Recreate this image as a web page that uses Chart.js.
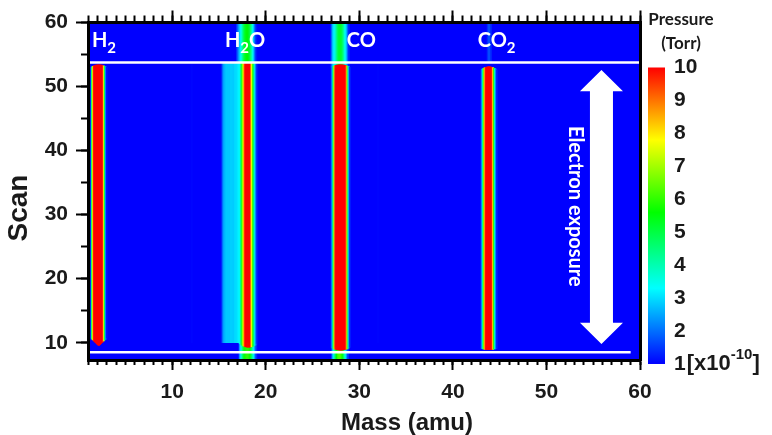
<!DOCTYPE html>
<html><head><meta charset="utf-8">
<script src="https://cdn.jsdelivr.net/npm/chart.js@4.4.1/dist/chart.umd.min.js"></script>
<style>html,body{margin:0;padding:0;background:#fff;}</style>
</head><body>
<canvas id="c" width="772" height="435"></canvas>
<script>
// ---------------- data (pressure in 1e-10 Torr) ----------------
const massRange = [1, 60];
const scanRange = [7.3, 60];
const xMajorTicks = [10, 20, 30, 40, 50, 60];
const xMinorTicks = [1,2,3,4,5,6,7,8,9,10,11,12,13,14,15,16,17,18,19,20,21,22,23,24,25,26,27,28,29,30,31,32,33,34,35,36,37,38,39,40,41,42,43,44,45,46,47,48,49,50,51,52,53,54,55,56,57,58,59,60];
const yMajorTicks = [10, 20, 30, 40, 50, 60];
const yMinorTicks = [10, 15, 20, 25, 30, 35, 40, 45, 50, 55, 60];
const pressureTicks = [1, 2, 3, 4, 5, 6, 7, 8, 9, 10];
const pressureAxisRange = [1.121, 11.366];

// mass profiles, 0.1 amu per entry; start given in tenths of amu
const h2Start = 13;
const h2Main = [1.3,4.5,7.5,9.7,10,10,10,10,10,10,10,10,10,9.6,7.5,4.8,2.2,1.2];
const h2Scans = [9.5, 53.4];
const h2Tips = [1.2, 0.4];

const h2oShoulderStart = 153;
const h2oShoulder = [1.3,1.9,2.4,2.6,2.7,2.8,2.8,2.8,2.8,2.8,2.9,2.9,2.9,2.9,3.0,3.0,3.0,3.1,3.2];
const h2oShoulderScans = [10.0, 53.75];

const h2oStart = 172;
const h2oMain = [3.3,4.0,5.0,6.2,7.6,9.0,10,10,10,10,10,10,9.2,7.8,6.3,5.0,3.8,2.6,1.7,1.2];
const h2oScans = [9.3, 53.75];
const h2oTips = [0.6, 0];

const h2oTopStart = 169;
const h2oTop = [1.4,1.8,2.3,2.7,3.1,3.5,4.0,4.5,5.0,5.3,5.5,5.6,5.6,5.4,5.1,4.7,4.2,3.6,3.0,2.3,1.7,1.2];
const h2oTopScans = [53.75, 60];

const h2oLowStart = 172;
const h2oLow = [2.2,2.9,3.6,4.3,4.9,5.4,5.7,5.9,6.0,6.0,5.9,5.7,5.3,4.8,4.2,3.5,2.8,2.0,1.4];
const h2oLowScans = [7.3, 10.0];

const coStart = 270;
const coMain = [1.3,2.5,4.5,7.0,9.3,10,10,10,10,10,10,10,10,10,10,10,9.3,7.0,4.5,2.5,1.3];
const coScans = [8.85, 53.4];
const coTips = [0.4, 0.4];

const coTopStart = 270;
const coTop = [1.5,2.3,2.9,3.2,3.5,3.9,4.4,4.8,5.1,5.2,5.2,5.1,4.8,4.4,3.9,3.4,3.0,2.5,1.8,1.3];
const coTopScans = [53.0, 60];

const coLowStart = 271;
const coLow = [2.0,2.9,3.6,4.4,5.1,5.6,6.0,6.2,6.3,6.2,6.0,5.6,5.0,4.4,3.6,2.9,2.1,1.5];
const coLowScans = [7.3, 9.2];

const co2Start = 430;
const co2Main = [1.3,2.3,4.2,6.5,8.5,9.8,10,10,10,10,10,10,9.6,7.8,5.6,3.6,2.2,1.3];
const co2Scans = [8.9, 53.1];
const co2Tips = [0.2, 0.5];

const co2TopStart = 437;
const co2Top = [1.3,1.6,1.8,1.6,1.3];
const co2TopScans = [53.75, 60];

const faintStarts = [121, 320];
const faintValues = [1.05, 1.04];
const faintScans = [10.0, 53.75];

const separatorScans = [8.5, 53.75];   // exposure start / end
const separatorEnds = [59, 60];

// texts
const chemLabels = [
  [['H',0],['2',1]],
  [['H',0],['2',1],['O',0]],
  [['CO',0]],
  [['CO',0],['2',1]]
];
const exposureLabel = 'Electron exposure';
const xTitle = 'Mass (amu)';
const yTitle = 'Scan';
const cbTitle = ['Pressure', '(Torr)'];

// colour map (style)
const cmapStops = [1, 3.3, 5.6, 7.8, 10];
const cmapRGB = [[0,0,255],[0,255,255],[0,255,0],[255,255,0],[255,0,0]];

function pColor(p) {
  const v = Math.max(cmapStops[0], Math.min(cmapStops[cmapStops.length - 1], p));
  for (let i = 1; i < cmapStops.length; i++) {
    if (v <= cmapStops[i]) {
      const t = (v - cmapStops[i-1]) / (cmapStops[i] - cmapStops[i-1]);
      const a = cmapRGB[i-1], b = cmapRGB[i];
      return 'rgb(' + a.map((c, k) => Math.round(c + (b[k] - c) * t)).join(',') + ')';
    }
  }
  return 'rgb(255,0,0)';
}

function columns(startTenths, values, scans, tips, sharp) {
  tips = tips || [0, 0]; sharp = sharp || [2, 2];
  const half = (values.length - 1) / 2;
  return values.map((p, i) => {
    const f = half ? Math.abs(i - half) / half : 0;
    return { x: (startTenths + i) / 10,
             y: [scans[0] + tips[0] * Math.pow(f, sharp[0]), scans[1] - tips[1] * Math.pow(f, sharp[1])],
             p: p };
  });
}
function heat(cols, order) {
  return { type: 'bar', data: cols, backgroundColor: cols.map(c => pColor(c.p)), order: order };
}
function sepLine(scan, endMass) {
  return { type: 'line', data: [{x: massRange[0], y: scan}, {x: endMass, y: scan}],
           borderColor: '#ffffff', borderWidth: 2.5, pointRadius: 0, order: 0 };
}

const datasets = [
  sepLine(separatorScans[1], separatorEnds[1]),
  sepLine(separatorScans[0], separatorEnds[0]),
  heat(columns(h2Start, h2Main, h2Scans, h2Tips, [1, 2]), 2),
  heat(columns(h2oShoulderStart, h2oShoulder, h2oShoulderScans), 2),
  heat(columns(h2oStart, h2oMain, h2oScans, h2oTips), 2),
  heat(columns(coStart, coMain, coScans, coTips), 2),
  heat(columns(co2Start, co2Main, co2Scans, co2Tips), 2),
  heat(columns(faintStarts[0], [faintValues[0]], faintScans), 2),
  heat(columns(faintStarts[1], [faintValues[1]], faintScans), 2),
  heat(columns(h2oTopStart, h2oTop, h2oTopScans), 3),
  heat(columns(h2oLowStart, h2oLow, h2oLowScans), 3),
  heat(columns(coTopStart, coTop, coTopScans), 3),
  heat(columns(coLowStart, coLow, coLowScans), 3),
  heat(columns(co2TopStart, co2Top, co2TopScans), 3)
];

// ---------------- styling / layout ----------------
const INK = '#1a1a1a';
const tickFont = { family: 'Liberation Sans', size: 21, weight: 'bold' };
const setTicks = arr => scale => { scale.ticks = arr.map(v => ({ value: v })); };

function xAxis(pos, ticksArr, len, weight, size, showLabels, border) {
  return {
    type: 'linear', position: pos, min: massRange[0], max: massRange[1], offset: false, weight: weight,
    afterBuildTicks: setTicks(ticksArr),
    afterFit: s => { s.height = size; },
    grid: { display: true, drawOnChartArea: false, drawTicks: true, tickLength: len, tickWidth: 2, tickColor: '#000', offset: false },
    border: { display: border, width: 3, color: '#000', z: 1 },
    ticks: { display: showLabels, font: tickFont, color: INK, padding: 10, maxRotation: 0, autoSkip: false }
  };
}
function yAxis(ticksArr, len, weight, size, showLabels, border) {
  return {
    type: 'linear', position: 'left', min: scanRange[0], max: scanRange[1], weight: weight,
    afterBuildTicks: setTicks(ticksArr),
    afterFit: s => { s.width = size; },
    grid: { display: true, drawOnChartArea: false, drawTicks: true, tickLength: len, tickWidth: 2, tickColor: '#000' },
    border: { display: border, width: 3, color: '#000', z: 1 },
    ticks: { display: showLabels, font: tickFont, color: INK, padding: 8, autoSkip: false }
  };
}

function drawChem(ctx, x, yBase, parts) {
  for (const [t, sub] of parts) {
    ctx.font = sub ? 'bold 15px Lato' : 'bold 20px Lato';
    ctx.fillText(t, x, yBase + (sub ? 6 : 0));
    x += ctx.measureText(t).width;
  }
}

const chemLabelMass = [1.42, 15.63, 28.66, 42.66];
const chemLabelScan = 56.2;

const overlay = {
  id: 'overlay',
  beforeDatasetsDraw(chart) {
    const { ctx, chartArea: a } = chart;
    ctx.save();
    ctx.fillStyle = pColor(1);
    ctx.fillRect(a.left, a.top, a.right - a.left, a.bottom - a.top);
    ctx.restore();
  },
  afterDatasetsDraw(chart) {
    const { ctx } = chart;
    const xs = chart.scales.x, ys = chart.scales.y;
    ctx.save();
    // double arrow (data units)
    const aMass = 55.88, aShaft = 1.23, aHead = 2.3, aTip = [9.8, 52.58], aLen = 3.3;
    const cx = xs.getPixelForValue(aMass);
    const sh = xs.getPixelForValue(aMass + aShaft) - cx;
    const hh = xs.getPixelForValue(aMass + aHead) - cx;
    const yT = ys.getPixelForValue(aTip[1]), yB = ys.getPixelForValue(aTip[0]);
    const hT = ys.getPixelForValue(aTip[1] - aLen), hB = ys.getPixelForValue(aTip[0] + aLen);
    ctx.fillStyle = '#ffffff';
    ctx.beginPath();
    ctx.moveTo(cx, yT); ctx.lineTo(cx + hh, hT); ctx.lineTo(cx + sh, hT); ctx.lineTo(cx + sh, hB);
    ctx.lineTo(cx + hh, hB); ctx.lineTo(cx, yB); ctx.lineTo(cx - hh, hB); ctx.lineTo(cx - sh, hB);
    ctx.lineTo(cx - sh, hT); ctx.lineTo(cx - hh, hT); ctx.closePath(); ctx.fill();
    // chemical labels
    ctx.textAlign = 'left'; ctx.textBaseline = 'alphabetic';
    chemLabels.forEach((parts, i) => drawChem(ctx, xs.getPixelForValue(chemLabelMass[i]), ys.getPixelForValue(chemLabelScan), parts));
    // exposure text
    ctx.translate(xs.getPixelForValue(53.05), ys.getPixelForValue(31.3));
    ctx.rotate(Math.PI / 2);
    ctx.font = 'bold 20px Lato'; ctx.textAlign = 'center'; ctx.textBaseline = 'middle';
    ctx.fillText(exposureLabel, 0, 0);
    ctx.restore();
  },
  afterDraw(chart) {
    const { ctx } = chart;
    const cb = chart.scales.y2;
    ctx.save();
    // colour bar
    const y1 = cb.getPixelForValue(pressureTicks[0]);
    const y10 = cb.getPixelForValue(pressureTicks[pressureTicks.length - 1]);
    const g = ctx.createLinearGradient(0, y1, 0, y10);
    cmapStops.forEach(v => g.addColorStop((v - cmapStops[0]) / (cmapStops[cmapStops.length - 1] - cmapStops[0]), pColor(v)));
    ctx.fillStyle = g;
    ctx.fillRect(cb.left + 8, y10, 17, y1 - y10);
    // colour bar title
    ctx.fillStyle = INK; ctx.textAlign = 'center'; ctx.textBaseline = 'middle';
    ctx.font = 'bold 17px Lato';
    ctx.fillText(cbTitle[0], cb.left + 41, 20);
    ctx.fillText(cbTitle[1], cb.left + 41, 44);
    // unit suffix next to "1"
    ctx.textAlign = 'left';
    ctx.font = 'bold 21px Liberation Sans';
    let x = cb.left + 34 + ctx.measureText('1').width + 1;
    ctx.font = 'bold 22px Liberation Sans';
    ctx.fillText('[x10', x, y1); x += ctx.measureText('[x10').width;
    ctx.font = 'bold 15px Liberation Sans';
    ctx.fillText('-10', x, y1 - 9); x += ctx.measureText('-10').width;
    ctx.font = 'bold 22px Liberation Sans';
    ctx.fillText(']', x, y1);
    // axis titles
    ctx.textAlign = 'center';
    ctx.font = 'bold 24px Liberation Sans';
    ctx.fillText(xTitle, 407, 423);
    ctx.translate(19, 208); ctx.rotate(-Math.PI / 2);
    ctx.font = 'bold 28px Liberation Sans';
    ctx.fillText(yTitle, 0, 0);
    ctx.restore();
  }
};

new Chart(document.getElementById('c'), {
  type: 'bar',
  data: { datasets: datasets },
  options: {
    responsive: false, animation: false, events: [],
    layout: { padding: 0 },
    datasets: { bar: { grouped: false, barPercentage: 1, categoryPercentage: 1, borderWidth: 0, clip: 0 } },
    plugins: { legend: { display: false }, tooltip: { enabled: false } },
    scales: {
      x: xAxis('bottom', xMajorTicks, 10, 1, 75, true, true),
      xMinor: xAxis('bottom', xMinorTicks, 5, 0, 0, false, false),
      xTop: xAxis('top', xMajorTicks, 12, 1, 22.5, false, true),
      xTopMinor: xAxis('top', xMinorTicks, 7, 0, 0, false, false),
      y: yAxis(yMajorTicks, 12, 1, 88, true, true),
      yMinor: yAxis(yMinorTicks, 7, 0, 0, false, false),
      y2: {
        type: 'linear', position: 'right', min: pressureAxisRange[0], max: pressureAxisRange[1],
        afterBuildTicks: setTicks(pressureTicks),
        afterFit: s => { s.width = 132; },
        grid: { display: true, drawOnChartArea: false, drawTicks: true, tickLength: 30, tickColor: 'rgba(0,0,0,0)' },
        border: { display: true, width: 3, color: '#000', z: 1 },
        ticks: { font: tickFont, color: INK, padding: 4, autoSkip: false }
      }
    }
  },
  plugins: [overlay]
});
</script>
</body></html>
